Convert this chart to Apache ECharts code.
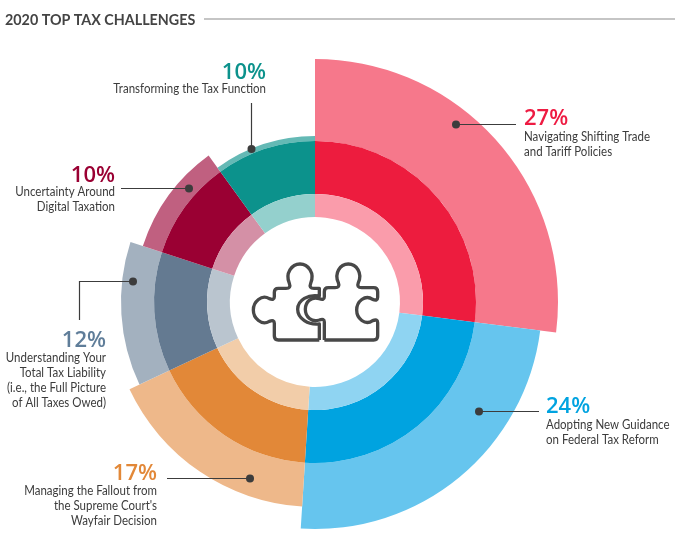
<!DOCTYPE html>
<html>
<head>
<meta charset="utf-8">
<script src="https://cdn.jsdelivr.net/npm/echarts@6/dist/echarts.min.js"></script>
<style>
html, body { margin: 0; padding: 0; background: #fff; }
#chart { width: 679px; height: 543px; }
</style>
</head>
<body>
<div id="chart"></div>
<script>
// chart data, clockwise from 12 o'clock
const categories = [
    'Navigating Shifting Trade\nand Tariff Policies',
    'Adopting New Guidance\non Federal Tax Reform',
    "Managing the Fallout from\nthe Supreme Court's\nWayfair Decision",
    'Understanding Your\nTotal Tax Liability\n(i.e., the Full Picture\nof All Taxes Owed)',
    'Uncertainty Around\nDigital Taxation',
    'Transforming the Tax Function'
];
const shares = [27, 24, 17, 12, 10, 10];
const outerReach = [243, 227, 205, 194, 181, 166];

const outerColors = ['#f6788b', '#66c5ee', '#eeb88a', '#a3b1bf', '#c06080', '#64b9b5'];
const midColors = ['#ed1c3e', '#00a3e0', '#e28838', '#647a91', '#9a0033', '#0c928c'];
const innerColors = ['#fa9cab', '#8fd4f2', '#f2cda9', '#bac5cf', '#d490a6', '#94d0cd'];
const numberColors = ['#ee1b42', '#00a3e0', '#e28838', '#5f7d99', '#9a0033', '#0c928c'];

const center = [315, 302];
const inkColor = '#3c3c3c';

function ring(radius, colors) {
    return {
        type: 'pie',
        silent: true,
        center: center,
        radius: radius,
        startAngle: 90,
        clockwise: true,
        animation: false,
        label: { show: false },
        labelLine: { show: false },
        data: shares.map(function (v, i) {
            return { value: v, name: categories[i], itemStyle: { color: colors[i] } };
        })
    };
}

// each outer slice has its own reach, so it gets its own pie
const outerSeries = shares.map(function (v, idx) {
    const s = ring([161, outerReach[idx]], outerColors);
    s.data = s.data.map(function (d, i) {
        return i === idx ? d : { value: d.value, name: d.name, itemStyle: { color: 'transparent' } };
    });
    return s;
});

// label anchors: [x of text, y of number, align, y of first text line]
const labelBoxes = [
    [524, 119, 'left', 137],
    [546, 407, 'left', 425],
    [157, 474, 'right', 491],
    [106, 341, 'right', 358],
    [115, 176, 'right', 192],
    [266, 73, 'right', 89]
];
const leaders = [
    [[456, 124.5], [516, 124.5]],
    [[479, 411.5], [539, 411.5]],
    [[250, 478.5], [167, 478.5]],
    [[133, 281.5], [79.5, 281.5], [79.5, 320]],
    [[189, 188.5], [121, 188.5]],
    [[251.5, 149], [251.5, 103]]
];

const graphics = [];

graphics.push({
    type: 'text', x: 5, y: 20,
    style: { text: '2020 TOP TAX CHALLENGES', fill: '#444', font: 'bold 14.3px Lato', verticalAlign: 'middle' }
});
graphics.push({
    type: 'line',
    shape: { x1: 204, y1: 19, x2: 675, y2: 19 },
    style: { stroke: '#8c8c8c', lineWidth: 1.2 }
});

shares.forEach(function (v, i) {
    const box = labelBoxes[i];
    graphics.push({
        type: 'text', x: box[0], y: box[1],
        style: {
            text: v + '%', fill: numberColors[i], font: '600 22px "Open Sans"',
            align: box[2], verticalAlign: 'middle'
        }
    });
    categories[i].split('\n').forEach(function (line, k) {
        graphics.push({
            type: 'text', x: box[0], y: box[3] + k * 15, scaleX: 0.92,
            style: {
                text: line, fill: inkColor, font: '12.5px Lato',
                align: box[2], verticalAlign: 'middle'
            }
        });
    });
    graphics.push({
        type: 'polyline', z: 10,
        shape: { points: leaders[i] },
        style: { stroke: inkColor, lineWidth: 1.2, fill: null }
    });
    graphics.push({
        type: 'circle', z: 10,
        shape: { cx: leaders[i][0][0], cy: leaders[i][0][1], r: 4 },
        style: { fill: inkColor }
    });
});

// puzzle icon, traced at 3x and scaled back down
const iconPaths = [
    'M268 360 L145 360 Q133 360 133 348 L133 310 Q133 298 118 304 C95 318 70 295 70 270 C70 245 95 222 118 236 Q133 242 133 230 L133 217 Q133 205 145 205 L168 205 Q184 205 178 190 C165 160 185 132 210 132 C235 132 255 160 242 190 Q236 205 252 205 L268 205 L268 228 C235 222 203 240 203 268 C203 296 235 316 268 312 L268 360',
    'M283 360 L431 360 Q443 360 443 348 L443 308 Q443 296 428 302 C405 318 380 295 380 270 C380 245 405 222 428 238 Q443 244 443 232 L443 215 Q443 203 431 203 L395 203 Q379 203 385 188 C398 160 380 132 355 132 C330 132 312 160 325 188 Q331 203 315 203 L295 203 Q283 203 283 215 L283 230 Q283 242 268 236 C245 228 226 245 226 268 C226 291 245 308 268 300 Q283 294 283 306 L283 348 Q283 360 283 360'
];
const iconSeries = {
    type: 'custom',
    coordinateSystem: 'none',
    silent: true,
    animation: false,
    data: [0],
    renderItem: function () {
        return {
            type: 'group',
            x: 230, y: 220, scaleX: 1 / 3, scaleY: 1 / 3,
            children: iconPaths.map(function (d) {
                return {
                    type: 'path',
                    shape: { pathData: d },
                    style: { stroke: '#484848', lineWidth: 10, fill: null, lineJoin: 'round' }
                };
            })
        };
    }
};

const chart = echarts.init(document.getElementById('chart'));
chart.setOption({
    backgroundColor: '#fff',
    animation: false,
    series: outerSeries.concat([
        ring([108, 161], midColors),
        ring([85, 108], innerColors),
        iconSeries
    ]),
    graphic: { elements: graphics }
});
</script>
</body>
</html>
